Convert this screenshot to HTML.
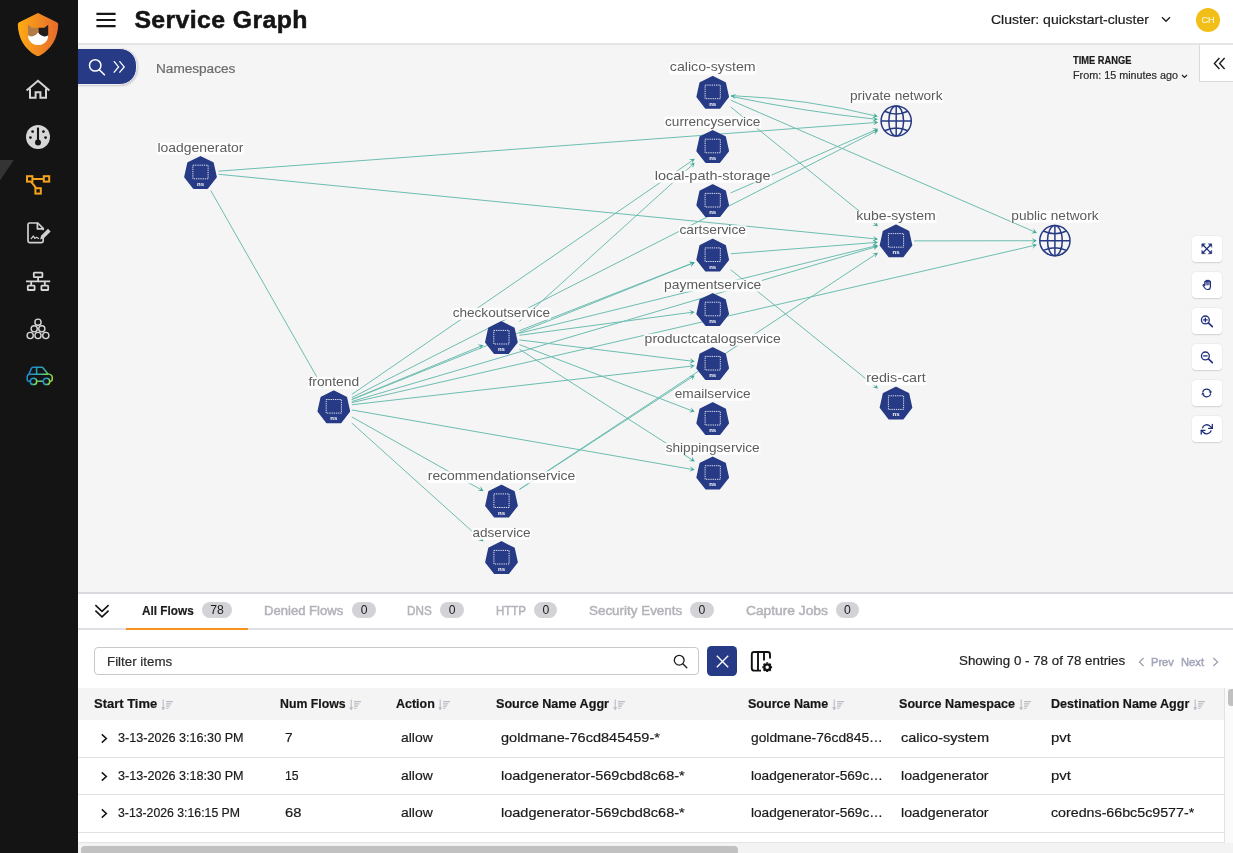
<!DOCTYPE html>
<html lang="en"><head><meta charset="utf-8"><title>Service Graph</title>
<style>
*{box-sizing:border-box;margin:0;padding:0}
html,body{width:1233px;height:853px;overflow:hidden;background:#f5f5f5;font-family:"Liberation Sans",sans-serif;color:#222}
.t{position:absolute;white-space:nowrap;-webkit-text-stroke-width:0.2px}
.abs{position:absolute}
#side{position:absolute;left:0;top:0;width:78px;height:853px;background:#141414}
#side svg{position:absolute;left:0;top:0}
#hdr{position:absolute;left:78px;top:0;width:1155px;height:45px;background:#fff;border-bottom:2px solid #e5e5e5;z-index:2}
#graph{position:absolute;left:78px;top:44px;width:1155px;height:548px;background:#f5f5f5;overflow:hidden}
svg.graph{position:absolute;left:0;top:0}
.lbl{font-family:"Liberation Sans",sans-serif;font-size:13.5px;fill:#5c5c5c}
.nst{font-family:"Liberation Sans",sans-serif;font-size:6px;font-weight:700;fill:#fff;text-anchor:middle}
.tb{position:absolute;left:1113.7px;width:30.6px;height:26.4px;background:#fff;border-radius:4px;box-shadow:0 0.5px 1.5px rgba(0,0,0,.14)}
.tb svg{position:absolute;left:9.5px;top:7.4px;overflow:visible}
#panel{position:absolute;left:78px;top:592px;width:1155px;height:261px;background:#fff;border-top:2px solid #d9dade}
.badge{position:absolute;top:7.6px;height:16px;border-radius:8px;background:#d3d3d7;color:#1c1c1c;font-size:12.2px;line-height:17px;text-align:center}
.row{position:absolute;left:0;width:1146px;height:37.5px;border-bottom:1px solid #e4e4e4;background:#fff}
</style></head><body>
<div id="side"><svg width="78" height="853" viewBox="0 0 78 853">
<defs>
<linearGradient id="lg" x1="0" y1="0" x2="1" y2="0"><stop offset="0" stop-color="#fdab14"/><stop offset="1" stop-color="#e76a2d"/></linearGradient>
<linearGradient id="cg" x1="0" y1="0.3" x2="1" y2="0.7"><stop offset="0" stop-color="#1b86d6"/><stop offset="0.55" stop-color="#2fb0b0"/><stop offset="1" stop-color="#9adf3d"/></linearGradient>
</defs>
<path d="M38 13.1 L56.8 22.2 Q58.3 22.9 58.2 24.7 C57.8 38 51.5 49 40 55.5 Q38 56.7 36 55.5 C24.5 49 18.2 38 17.8 24.7 Q17.7 22.9 19.2 22.2 Z" fill="url(#lg)"/>
<path d="M28 24.8 L31.8 27.8 L37.7 27.8 L37.7 33 Q36 37.4 32 37.2 L28 36.4 Z" fill="#b27c49"/>
<path d="M48.2 24.8 L44.4 27.8 L38.5 27.8 L38.5 33 Q40.2 37.4 44.2 37.2 L48.2 36.4 Z" fill="#231d1e"/>
<path d="M28 35.2 Q33.5 38.6 38.1 32.6 Q42.7 38.6 48.2 35.2 C48.2 41.4 43.6 45 38.1 45 C32.6 45 28 41.4 28 35.2 Z" fill="#fff"/>
<!-- home -->
<g fill="none" stroke="#d6d6d6" stroke-width="2" stroke-linejoin="miter">
<path d="M26.6 90.6 L38 80.8 L49.4 90.6"/><path d="M30 88.4 V97.7 H35.6 V92.2 H40.4 V97.7 H46 V88.4"/>
</g>
<!-- gauge -->
<circle cx="38" cy="137" r="12" fill="#d6d6d6"/>
<path d="M38 127.6 V141" stroke="#141414" stroke-width="2.1" fill="none"/>
<circle cx="38" cy="142.4" r="3" fill="#141414"/>
<g fill="#141414"><circle cx="30.4" cy="137.6" r="1.4"/><circle cx="32.6" cy="131.6" r="1.4"/><circle cx="43.4" cy="131.6" r="1.4"/><circle cx="45.6" cy="137.6" r="1.4"/></g>
<!-- active marker -->
<path d="M0 160 H13.8 L0 180.5 Z" fill="#343434"/>
<!-- service graph (active) -->
<g fill="none" stroke="#f5a21d" stroke-width="2">
<rect x="27" y="176.2" width="5.4" height="5.4"/><rect x="43.8" y="176.2" width="5.4" height="5.4"/><rect x="35.4" y="188.2" width="5.4" height="5.4"/>
<path d="M32.4 178.9 H43.8 M31 181.6 L36.2 188.2"/>
</g>
<!-- document edit -->
<g fill="none" stroke="#d0d0d0" stroke-width="1.7" stroke-linejoin="round" stroke-linecap="round">
<path d="M43.2 238.5 V241 Q43.2 242.6 41.6 242.6 H29.6 Q28 242.6 28 241 V224.6 Q28 223 29.6 223 H37.8 L43.2 228.4 V229.5"/>
<path d="M37.4 223.4 V228.8 H42.8"/>
<path d="M31.2 238.6 L33.4 236 L34.8 238.4 L36.6 237.2 L38.6 238.6" stroke-width="1.2"/>
</g>
<path d="M40.2 239.6 L41 235.8 L48 228.8 L50.6 231.4 L43.6 238.4 Z" fill="#d0d0d0"/>
<!-- network -->
<g fill="none" stroke="#d6d6d6" stroke-width="1.8">
<rect x="33.8" y="272.6" width="8.6" height="4.6" rx="0.6"/>
<rect x="27.8" y="285.6" width="6.8" height="4.4" rx="0.6"/><rect x="41.4" y="285.6" width="6.8" height="4.4" rx="0.6"/>
<path d="M26 281.3 H50.2 M38.1 277.2 V281.3 M31.2 281.3 V285.6 M44.8 281.3 V285.6"/>
</g>
<!-- pyramid -->
<g fill="none" stroke="#d6d6d6" stroke-width="1.4">
<circle cx="38" cy="322.2" r="3.1"/><circle cx="34.2" cy="328.8" r="3.1"/><circle cx="41.8" cy="328.8" r="3.1"/>
<circle cx="30.2" cy="335.5" r="3.1"/><circle cx="38" cy="335.5" r="3.1"/><circle cx="45.8" cy="335.5" r="3.1"/>
</g>
<!-- car -->
<g fill="none" stroke="url(#cg)" stroke-width="1.5" stroke-linejoin="round" stroke-linecap="round">
<path d="M30.2 381.2 H28.6 Q27.2 381.2 27.2 379.8 V376.4 Q27.2 374.6 28.8 374.4 L31.4 368.4 Q31.9 367.2 33.2 367.2 H41.4 Q42.6 367.2 43.4 368.2 L47.6 373.6 L50.4 374.6 Q52.2 375.2 52.2 377 V379.8 Q52.2 381.2 50.8 381.2 H49.8"/>
<path d="M36.8 381.2 H43.2 M29 374.3 H47.4 M36.6 367.4 V374.2"/>
<circle cx="33.5" cy="381.4" r="3.2"/><circle cx="46.5" cy="381.4" r="3.2"/>
</g>
</svg></div>
<div id="hdr"><svg class="abs" style="left:18px;top:12px" width="20" height="16" viewBox="0 0 20 16"><path d="M0.4 1.9H19.6M0.4 8H19.6M0.4 14.1H19.6" stroke="#161616" stroke-width="2.1" fill="none"/></svg><div class="t" style="left:56.4px;top:3.6px;font-size:24.8px;line-height:32px;font-weight:700;color:#141414;letter-spacing:0.402px;-webkit-text-stroke:0.55px #141414;">Service Graph</div><div class="t" style="left:913.0px;top:11.4px;font-size:13.1px;line-height:17px;font-weight:400;color:#1c1c1c;letter-spacing:0.000px;transform:scaleX(1.0691);transform-origin:0 0;-webkit-text-stroke:0.2px #1c1c1c;">Cluster: quickstart-cluster</div><svg class="abs" style="left:1082.5px;top:16px" width="10" height="7" viewBox="0 0 10 7"><path d="M1 1.2L5 5.2L9 1.2" stroke="#222" stroke-width="1.4" fill="none"/></svg><div class="abs" style="left:1117.7px;top:7.5px;width:24.4px;height:24.4px;border-radius:50%;background:#f1bf17"></div><div class="t" style="left:1123.4px;top:13.9px;font-size:9.2px;line-height:12px;font-weight:400;color:#fdf3cf;letter-spacing:-0.088px;">CH</div></div>
<div id="graph"><svg class="graph" width="1155" height="548" viewBox="78 44 1155 548">
<path d="M210.74 190.50L322.57 387.06M218.50 171.17L876.21 122.48M218.50 174.27L876.01 238.93M351.80 399.38L481.55 345.88M351.80 394.43L693.05 160.00M351.80 397.65L876.42 131.05M351.80 399.60L692.84 263.14M351.80 401.49L876.08 246.78M351.80 402.65L1034.95 245.30M351.80 404.75L692.71 365.97M351.80 409.94L692.73 469.51M351.80 416.93L481.76 490.09M351.80 423.00L482.01 540.17M519.40 321.41L693.22 164.13M519.40 330.67L692.84 262.96M519.40 335.30L692.72 312.17M519.40 333.28L876.06 245.79M519.40 339.91L692.71 361.24M519.40 344.60L692.83 411.08M519.40 349.23L693.02 460.40M519.50 489.48L693.02 376.51M519.50 489.32L876.33 253.88M730.70 269.72L876.44 387.32M730.70 253.80L876.01 242.46M730.70 106.98L876.45 225.06M730.70 100.20L1035.06 232.10M730.70 192.88L876.37 129.61M914.00 240.88L1034.90 240.73M731.20 95.60Q807.45 98.70 876.20 116.10M731.20 96.40Q801.45 111.10 876.20 119.30" fill="none" stroke="#6dbdb1" stroke-width="1"/>
<path d="M0 0L-5.2 -2.8L-2.7 0L-5.2 2.8Z" fill="#3fa796" transform="translate(323.56 388.80) rotate(60.36)"/>
<path d="M0 0L-5.2 -2.8L-2.7 0L-5.2 2.8Z" fill="#3fa796" transform="translate(878.20 122.33) rotate(-4.23)"/>
<path d="M0 0L-5.2 -2.8L-2.7 0L-5.2 2.8Z" fill="#3fa796" transform="translate(878.00 239.13) rotate(5.62)"/>
<path d="M0 0L-5.2 -2.8L-2.7 0L-5.2 2.8Z" fill="#3fa796" transform="translate(483.40 345.12) rotate(-22.41)"/>
<path d="M0 0L-5.2 -2.8L-2.7 0L-5.2 2.8Z" fill="#3fa796" transform="translate(694.70 158.87) rotate(-34.49)"/>
<path d="M0 0L-5.2 -2.8L-2.7 0L-5.2 2.8Z" fill="#3fa796" transform="translate(878.20 130.15) rotate(-26.94)"/>
<path d="M0 0L-5.2 -2.8L-2.7 0L-5.2 2.8Z" fill="#3fa796" transform="translate(694.70 262.40) rotate(-21.81)"/>
<path d="M0 0L-5.2 -2.8L-2.7 0L-5.2 2.8Z" fill="#3fa796" transform="translate(878.00 246.21) rotate(-16.44)"/>
<path d="M0 0L-5.2 -2.8L-2.7 0L-5.2 2.8Z" fill="#3fa796" transform="translate(1036.90 244.85) rotate(-12.97)"/>
<path d="M0 0L-5.2 -2.8L-2.7 0L-5.2 2.8Z" fill="#3fa796" transform="translate(694.70 365.75) rotate(-6.49)"/>
<path d="M0 0L-5.2 -2.8L-2.7 0L-5.2 2.8Z" fill="#3fa796" transform="translate(694.70 469.86) rotate(9.91)"/>
<path d="M0 0L-5.2 -2.8L-2.7 0L-5.2 2.8Z" fill="#3fa796" transform="translate(483.50 491.07) rotate(29.38)"/>
<path d="M0 0L-5.2 -2.8L-2.7 0L-5.2 2.8Z" fill="#3fa796" transform="translate(483.50 541.50) rotate(41.98)"/>
<path d="M0 0L-5.2 -2.8L-2.7 0L-5.2 2.8Z" fill="#3fa796" transform="translate(694.70 162.79) rotate(-42.14)"/>
<path d="M0 0L-5.2 -2.8L-2.7 0L-5.2 2.8Z" fill="#3fa796" transform="translate(694.70 262.23) rotate(-21.33)"/>
<path d="M0 0L-5.2 -2.8L-2.7 0L-5.2 2.8Z" fill="#3fa796" transform="translate(694.70 311.90) rotate(-7.60)"/>
<path d="M0 0L-5.2 -2.8L-2.7 0L-5.2 2.8Z" fill="#3fa796" transform="translate(878.00 245.32) rotate(-13.78)"/>
<path d="M0 0L-5.2 -2.8L-2.7 0L-5.2 2.8Z" fill="#3fa796" transform="translate(694.70 361.49) rotate(7.01)"/>
<path d="M0 0L-5.2 -2.8L-2.7 0L-5.2 2.8Z" fill="#3fa796" transform="translate(694.70 411.80) rotate(20.97)"/>
<path d="M0 0L-5.2 -2.8L-2.7 0L-5.2 2.8Z" fill="#3fa796" transform="translate(694.70 461.47) rotate(32.63)"/>
<path d="M0 0L-5.2 -2.8L-2.7 0L-5.2 2.8Z" fill="#3fa796" transform="translate(694.70 375.42) rotate(-33.07)"/>
<path d="M0 0L-5.2 -2.8L-2.7 0L-5.2 2.8Z" fill="#3fa796" transform="translate(878.00 252.78) rotate(-33.42)"/>
<path d="M0 0L-5.2 -2.8L-2.7 0L-5.2 2.8Z" fill="#3fa796" transform="translate(878.00 388.58) rotate(38.90)"/>
<path d="M0 0L-5.2 -2.8L-2.7 0L-5.2 2.8Z" fill="#3fa796" transform="translate(878.00 242.30) rotate(-4.46)"/>
<path d="M0 0L-5.2 -2.8L-2.7 0L-5.2 2.8Z" fill="#3fa796" transform="translate(878.00 226.32) rotate(39.01)"/>
<path d="M0 0L-5.2 -2.8L-2.7 0L-5.2 2.8Z" fill="#3fa796" transform="translate(1036.90 232.90) rotate(23.43)"/>
<path d="M0 0L-5.2 -2.8L-2.7 0L-5.2 2.8Z" fill="#3fa796" transform="translate(878.20 128.82) rotate(-23.48)"/>
<path d="M0 0L-5.2 -2.8L-2.7 0L-5.2 2.8Z" fill="#3fa796" transform="translate(1036.90 240.72) rotate(-0.07)"/>
<path d="M0 0L-5.2 -2.8L-2.7 0L-5.2 2.8Z" fill="#3fa796" transform="translate(877.80 116.40) rotate(12.41)"/>
<path d="M0 0L-5.2 -2.8L-2.7 0L-5.2 2.8Z" fill="#3fa796" transform="translate(877.80 119.50) rotate(6.28)"/>
<path d="M0 0L-5.2 -2.8L-2.7 0L-5.2 2.8Z" fill="#3fa796" transform="translate(730.90 95.70) rotate(-171.47)"/>
<polygon points="200.50,156.88 212.97,163.07 216.05,176.97 207.42,188.11 193.58,188.11 184.95,176.97 188.03,163.07" fill="#273a85" stroke="#273a85" stroke-width="1.6" stroke-linejoin="round"/>
<rect x="192.90" y="165.20" width="15.2" height="13.6" fill="none" stroke="#fff" stroke-width="0.9" stroke-dasharray="1.3 0.9" opacity="0.95"/>
<text x="200.50" y="185.80" class="nst">ns</text>
<rect x="156.70" y="142.50" width="87.60" height="12.1" rx="2" fill="#fff" fill-opacity="0.86"/>
<text x="157.50" y="151.55" class="lbl" textLength="86.00" lengthAdjust="spacingAndGlyphs">loadgenerator</text>
<polygon points="333.80,391.18 346.27,397.37 349.35,411.27 340.72,422.41 326.88,422.41 318.25,411.27 321.33,397.37" fill="#273a85" stroke="#273a85" stroke-width="1.6" stroke-linejoin="round"/>
<rect x="326.20" y="399.50" width="15.2" height="13.6" fill="none" stroke="#fff" stroke-width="0.9" stroke-dasharray="1.3 0.9" opacity="0.95"/>
<text x="333.80" y="420.10" class="nst">ns</text>
<rect x="307.65" y="376.80" width="52.30" height="12.1" rx="2" fill="#fff" fill-opacity="0.86"/>
<text x="308.45" y="385.85" class="lbl" textLength="50.70" lengthAdjust="spacingAndGlyphs">frontend</text>
<polygon points="501.40,322.08 513.87,328.27 516.95,342.17 508.32,353.31 494.48,353.31 485.85,342.17 488.93,328.27" fill="#273a85" stroke="#273a85" stroke-width="1.6" stroke-linejoin="round"/>
<rect x="493.80" y="330.40" width="15.2" height="13.6" fill="none" stroke="#fff" stroke-width="0.9" stroke-dasharray="1.3 0.9" opacity="0.95"/>
<text x="501.40" y="351.00" class="nst">ns</text>
<rect x="451.85" y="307.70" width="99.10" height="12.1" rx="2" fill="#fff" fill-opacity="0.86"/>
<text x="452.65" y="316.75" class="lbl" textLength="97.50" lengthAdjust="spacingAndGlyphs">checkoutservice</text>
<polygon points="501.50,485.58 513.97,491.77 517.05,505.67 508.42,516.81 494.58,516.81 485.95,505.67 489.03,491.77" fill="#273a85" stroke="#273a85" stroke-width="1.6" stroke-linejoin="round"/>
<rect x="493.90" y="493.90" width="15.2" height="13.6" fill="none" stroke="#fff" stroke-width="0.9" stroke-dasharray="1.3 0.9" opacity="0.95"/>
<text x="501.50" y="514.50" class="nst">ns</text>
<rect x="426.95" y="471.20" width="149.10" height="12.1" rx="2" fill="#fff" fill-opacity="0.86"/>
<text x="427.75" y="480.25" class="lbl" textLength="147.50" lengthAdjust="spacingAndGlyphs">recommendationservice</text>
<polygon points="501.50,542.08 513.97,548.27 517.05,562.17 508.42,573.31 494.58,573.31 485.95,562.17 489.03,548.27" fill="#273a85" stroke="#273a85" stroke-width="1.6" stroke-linejoin="round"/>
<rect x="493.90" y="550.40" width="15.2" height="13.6" fill="none" stroke="#fff" stroke-width="0.9" stroke-dasharray="1.3 0.9" opacity="0.95"/>
<text x="501.50" y="571.00" class="nst">ns</text>
<rect x="471.70" y="527.70" width="59.60" height="12.1" rx="2" fill="#fff" fill-opacity="0.86"/>
<text x="472.50" y="536.75" class="lbl" textLength="58.00" lengthAdjust="spacingAndGlyphs">adservice</text>
<polygon points="712.70,76.78 725.17,82.97 728.25,96.87 719.62,108.01 705.78,108.01 697.15,96.87 700.23,82.97" fill="#273a85" stroke="#273a85" stroke-width="1.6" stroke-linejoin="round"/>
<rect x="705.10" y="85.10" width="15.2" height="13.6" fill="none" stroke="#fff" stroke-width="0.9" stroke-dasharray="1.3 0.9" opacity="0.95"/>
<text x="712.70" y="105.70" class="nst">ns</text>
<rect x="669.00" y="62.40" width="87.40" height="12.1" rx="2" fill="#fff" fill-opacity="0.86"/>
<text x="669.80" y="71.45" class="lbl" textLength="85.80" lengthAdjust="spacingAndGlyphs">calico-system</text>
<polygon points="712.70,130.88 725.17,137.07 728.25,150.97 719.62,162.11 705.78,162.11 697.15,150.97 700.23,137.07" fill="#273a85" stroke="#273a85" stroke-width="1.6" stroke-linejoin="round"/>
<rect x="705.10" y="139.20" width="15.2" height="13.6" fill="none" stroke="#fff" stroke-width="0.9" stroke-dasharray="1.3 0.9" opacity="0.95"/>
<text x="712.70" y="159.80" class="nst">ns</text>
<rect x="664.25" y="116.50" width="96.90" height="12.1" rx="2" fill="#fff" fill-opacity="0.86"/>
<text x="665.05" y="125.55" class="lbl" textLength="95.30" lengthAdjust="spacingAndGlyphs">currencyservice</text>
<polygon points="712.70,185.08 725.17,191.27 728.25,205.17 719.62,216.31 705.78,216.31 697.15,205.17 700.23,191.27" fill="#273a85" stroke="#273a85" stroke-width="1.6" stroke-linejoin="round"/>
<rect x="705.10" y="193.40" width="15.2" height="13.6" fill="none" stroke="#fff" stroke-width="0.9" stroke-dasharray="1.3 0.9" opacity="0.95"/>
<text x="712.70" y="214.00" class="nst">ns</text>
<rect x="654.00" y="170.70" width="117.40" height="12.1" rx="2" fill="#fff" fill-opacity="0.86"/>
<text x="654.80" y="179.75" class="lbl" textLength="115.80" lengthAdjust="spacingAndGlyphs">local-path-storage</text>
<polygon points="712.70,239.58 725.17,245.77 728.25,259.67 719.62,270.81 705.78,270.81 697.15,259.67 700.23,245.77" fill="#273a85" stroke="#273a85" stroke-width="1.6" stroke-linejoin="round"/>
<rect x="705.10" y="247.90" width="15.2" height="13.6" fill="none" stroke="#fff" stroke-width="0.9" stroke-dasharray="1.3 0.9" opacity="0.95"/>
<text x="712.70" y="268.50" class="nst">ns</text>
<rect x="678.70" y="225.20" width="68.00" height="12.1" rx="2" fill="#fff" fill-opacity="0.86"/>
<text x="679.50" y="234.25" class="lbl" textLength="66.40" lengthAdjust="spacingAndGlyphs">cartservice</text>
<polygon points="712.70,293.88 725.17,300.07 728.25,313.97 719.62,325.11 705.78,325.11 697.15,313.97 700.23,300.07" fill="#273a85" stroke="#273a85" stroke-width="1.6" stroke-linejoin="round"/>
<rect x="705.10" y="302.20" width="15.2" height="13.6" fill="none" stroke="#fff" stroke-width="0.9" stroke-dasharray="1.3 0.9" opacity="0.95"/>
<text x="712.70" y="322.80" class="nst">ns</text>
<rect x="663.30" y="279.50" width="98.80" height="12.1" rx="2" fill="#fff" fill-opacity="0.86"/>
<text x="664.10" y="288.55" class="lbl" textLength="97.20" lengthAdjust="spacingAndGlyphs">paymentservice</text>
<polygon points="712.70,348.08 725.17,354.27 728.25,368.17 719.62,379.31 705.78,379.31 697.15,368.17 700.23,354.27" fill="#273a85" stroke="#273a85" stroke-width="1.6" stroke-linejoin="round"/>
<rect x="705.10" y="356.40" width="15.2" height="13.6" fill="none" stroke="#fff" stroke-width="0.9" stroke-dasharray="1.3 0.9" opacity="0.95"/>
<text x="712.70" y="377.00" class="nst">ns</text>
<rect x="643.80" y="333.70" width="137.80" height="12.1" rx="2" fill="#fff" fill-opacity="0.86"/>
<text x="644.60" y="342.75" class="lbl" textLength="136.20" lengthAdjust="spacingAndGlyphs">productcatalogservice</text>
<polygon points="712.70,403.08 725.17,409.27 728.25,423.17 719.62,434.31 705.78,434.31 697.15,423.17 700.23,409.27" fill="#273a85" stroke="#273a85" stroke-width="1.6" stroke-linejoin="round"/>
<rect x="705.10" y="411.40" width="15.2" height="13.6" fill="none" stroke="#fff" stroke-width="0.9" stroke-dasharray="1.3 0.9" opacity="0.95"/>
<text x="712.70" y="432.00" class="nst">ns</text>
<rect x="673.90" y="388.70" width="77.60" height="12.1" rx="2" fill="#fff" fill-opacity="0.86"/>
<text x="674.70" y="397.75" class="lbl" textLength="76.00" lengthAdjust="spacingAndGlyphs">emailservice</text>
<polygon points="712.70,457.38 725.17,463.57 728.25,477.47 719.62,488.61 705.78,488.61 697.15,477.47 700.23,463.57" fill="#273a85" stroke="#273a85" stroke-width="1.6" stroke-linejoin="round"/>
<rect x="705.10" y="465.70" width="15.2" height="13.6" fill="none" stroke="#fff" stroke-width="0.9" stroke-dasharray="1.3 0.9" opacity="0.95"/>
<text x="712.70" y="486.30" class="nst">ns</text>
<rect x="664.90" y="443.00" width="95.60" height="12.1" rx="2" fill="#fff" fill-opacity="0.86"/>
<text x="665.70" y="452.05" class="lbl" textLength="94.00" lengthAdjust="spacingAndGlyphs">shippingservice</text>
<g fill="none" stroke="#273a85" stroke-width="1.5"><circle cx="896.20" cy="121.00" r="15.10"/><ellipse cx="896.20" cy="121.00" rx="7.4" ry="15.10"/><path d="M896.20 105.90V136.10M881.10 121.00H911.30M884.60 111.30Q896.20 116.80 907.80 111.30M884.60 130.70Q896.20 125.20 907.80 130.70"/></g>
<rect x="849.10" y="91.00" width="94.20" height="12.1" rx="2" fill="#fff" fill-opacity="0.86"/>
<text x="849.90" y="100.05" class="lbl" textLength="92.60" lengthAdjust="spacingAndGlyphs">private network</text>
<polygon points="896.00,225.28 908.47,231.47 911.55,245.37 902.92,256.51 889.08,256.51 880.45,245.37 883.53,231.47" fill="#273a85" stroke="#273a85" stroke-width="1.6" stroke-linejoin="round"/>
<rect x="888.40" y="233.60" width="15.2" height="13.6" fill="none" stroke="#fff" stroke-width="0.9" stroke-dasharray="1.3 0.9" opacity="0.95"/>
<text x="896.00" y="254.20" class="nst">ns</text>
<rect x="855.45" y="210.90" width="81.10" height="12.1" rx="2" fill="#fff" fill-opacity="0.86"/>
<text x="856.25" y="219.95" class="lbl" textLength="79.50" lengthAdjust="spacingAndGlyphs">kube-system</text>
<polygon points="896.00,387.48 908.47,393.67 911.55,407.57 902.92,418.71 889.08,418.71 880.45,407.57 883.53,393.67" fill="#273a85" stroke="#273a85" stroke-width="1.6" stroke-linejoin="round"/>
<rect x="888.40" y="395.80" width="15.2" height="13.6" fill="none" stroke="#fff" stroke-width="0.9" stroke-dasharray="1.3 0.9" opacity="0.95"/>
<text x="896.00" y="416.40" class="nst">ns</text>
<rect x="865.40" y="373.10" width="61.20" height="12.1" rx="2" fill="#fff" fill-opacity="0.86"/>
<text x="866.20" y="382.15" class="lbl" textLength="59.60" lengthAdjust="spacingAndGlyphs">redis-cart</text>
<g fill="none" stroke="#273a85" stroke-width="1.5"><circle cx="1054.90" cy="240.70" r="15.10"/><ellipse cx="1054.90" cy="240.70" rx="7.4" ry="15.10"/><path d="M1054.90 225.60V255.80M1039.80 240.70H1070.00M1043.30 231.00Q1054.90 236.50 1066.50 231.00M1043.30 250.40Q1054.90 244.90 1066.50 250.40"/></g>
<rect x="1010.50" y="210.70" width="88.80" height="12.1" rx="2" fill="#fff" fill-opacity="0.86"/>
<text x="1011.30" y="219.75" class="lbl" textLength="87.20" lengthAdjust="spacingAndGlyphs">public network</text>
</svg><div class="abs" style="left:-2px;top:4.3px;width:60.5px;height:37.2px;background:#273a85;border-radius:0 17px 17px 0;border:1.2px solid #eeeef4;box-shadow:1px 1px 2px rgba(0,0,0,.18)"></div><svg class="abs" style="left:8px;top:12px" width="42" height="22" viewBox="86 56 42 22" fill="none" stroke="#fff" stroke-linecap="round"><circle cx="95.2" cy="65.4" r="5.7" stroke-width="1.5"/><path d="M99.4 69.8L104.4 74.8" stroke-width="1.6"/><path d="M114.2 61.6L118.6 66.9L114.2 72.2M119.8 61.6L124.2 66.9L119.8 72.2" stroke-width="1.3" stroke-linejoin="miter"/></svg><div class="t" style="left:77.7px;top:15.9px;font-size:13.4px;line-height:17px;font-weight:400;color:#6a6a6a;letter-spacing:0.000px;transform:scaleX(1.0153);transform-origin:0 0;">Namespaces</div><div class="t" style="left:995.3px;top:9.9px;font-size:10.1px;line-height:13px;font-weight:700;color:#1a1a1a;letter-spacing:0.000px;transform:scaleX(0.9242);transform-origin:0 0;">TIME RANGE</div><div class="t" style="left:995.2px;top:23.8px;font-size:11.3px;line-height:15px;font-weight:400;color:#2a2a2a;letter-spacing:0.000px;transform:scaleX(0.9553);transform-origin:0 0;">From: 15 minutes ago</div><svg class="abs" style="left:1103px;top:29.5px" width="7" height="5" viewBox="0 0 7 5"><path d="M1 1L3.5 3.5L6 1" stroke="#222" stroke-width="1.2" fill="none"/></svg><div class="abs" style="left:1121px;top:-2px;width:40px;height:40.3px;background:#fff;border:1.8px solid #dadada"></div><svg class="abs" style="left:1135px;top:13px" width="13" height="13" viewBox="0 0 13 13" fill="none" stroke="#1b1b1b" stroke-width="1.4"><path d="M6.4 1L1.4 6.5L6.4 12M11.6 1L6.6 6.5L11.6 12"/></svg><div class="tb" style="top:191.5px"><svg width="11.6" height="11.6" viewBox="0 0 13 13" fill="none" stroke="#1f2f7c" stroke-width="1.5" stroke-linecap="round" stroke-linejoin="round"><path d="M2.2 2.2L10.8 10.8M10.8 2.2L2.2 10.8" stroke-width="1.5"/><path d="M0.9 4.6V0.9H4.6ZM8.4 0.9H12.1V4.6ZM12.1 8.4V12.1H8.4ZM4.6 12.1H0.9V8.4Z" fill="#1f2f7c" stroke-width="0.5"/></svg></div><div class="tb" style="top:227.5px"><svg width="11.6" height="11.6" viewBox="0 0 13 13" fill="none" stroke="#1f2f7c" stroke-width="1.5" stroke-linecap="round" stroke-linejoin="round"><path d="M3.4 7.2V3.2Q3.4 2.3 4.2 2.3Q5 2.3 5 3.2V2.2Q5 1.3 5.8 1.3Q6.6 1.3 6.6 2.2V2Q6.6 1.2 7.4 1.2Q8.2 1.2 8.2 2.1V2.9Q8.2 2.2 9 2.2Q9.8 2.2 9.8 3.1V8.2Q9.8 11.6 6.8 11.6H6.2Q4.6 11.6 3.6 10.2L1.6 7.4Q1.1 6.6 1.8 6.1Q2.5 5.7 3.4 7.2Z" stroke-width="1.3" transform="translate(0.8 0.2)"/><path d="M5.8 2.4V6.4M7.4 2.2V6.4M9 2.6V6.4" stroke-width="1.5" opacity="0.7"/></svg></div><div class="tb" style="top:263.5px"><svg width="11.6" height="11.6" viewBox="0 0 13 13" fill="none" stroke="#1f2f7c" stroke-width="1.5" stroke-linecap="round" stroke-linejoin="round"><circle cx="4.9" cy="5.5" r="4.4"/><path d="M8.3 8.9L12.7 13.1" stroke-width="1.8"/><path d="M2.9 5.5H6.9M4.9 3.5V7.5" stroke-width="1.5"/></svg></div><div class="tb" style="top:299.5px"><svg width="11.6" height="11.6" viewBox="0 0 13 13" fill="none" stroke="#1f2f7c" stroke-width="1.5" stroke-linecap="round" stroke-linejoin="round"><circle cx="4.9" cy="5.5" r="4.4"/><path d="M8.3 8.9L12.7 13.1" stroke-width="1.8"/><path d="M2.9 5.5H6.9" stroke-width="1.5"/></svg></div><div class="tb" style="top:335.5px"><svg width="11.6" height="11.6" viewBox="0 0 13 13" fill="none" stroke="#1f2f7c" stroke-width="1.5" stroke-linecap="round" stroke-linejoin="round"><path d="M2 5.4A4.7 4.7 0 0 1 10.7 5.2M10.8 8A4.7 4.7 0 0 1 2.1 8.2" stroke-width="1.25"/><path d="M12.1 5.2L10.6 7.6L9.2 5.2Z M0.7 8.2L2.2 5.8L3.6 8.2Z" fill="#1f2f7c" stroke-width="0.3"/></svg></div><div class="tb" style="top:371.5px"><svg width="11.6" height="11.6" viewBox="0 0 13 13" fill="none" stroke="#1f2f7c" stroke-width="1.5" stroke-linecap="round" stroke-linejoin="round"><g transform="translate(-0.3 0.3) scale(0.565)" stroke-width="2.6"><path d="M23 2.5V10H15.5"/><path d="M1 21.5V14H8.5"/><path d="M3.51 9a9 9 0 0 1 14.85-3.36L23 10M1 14l4.64 4.36A9 9 0 0 0 20.49 15"/></g></svg></div></div>
<div id="panel"><svg class="abs" style="left:16px;top:9.6px" width="16" height="15" viewBox="0 0 16 15" fill="none" stroke="#141414" stroke-width="1.6"><path d="M1.4 1.2L8 7.4L14.6 1.2M1.4 6.6L8 12.8L14.6 6.6"/></svg>
<div class="abs" style="left:0;top:34px;width:1155px;height:2px;background:#dfe0e4"></div>
<div class="abs" style="left:48px;top:34px;width:122px;height:2px;background:#f6921e"></div>
<div class="t" style="left:64.0px;top:9.0px;font-size:12.5px;line-height:16px;font-weight:700;color:#1c1c1c;letter-spacing:0.000px;transform:scaleX(0.9423);transform-origin:0 0;">All Flows</div><div class="badge" style="left:124.0px;width:30.2px">78</div>
<div class="t" style="left:186.4px;top:9.0px;font-size:12.5px;line-height:16px;font-weight:400;color:#b3b3ba;letter-spacing:0.000px;transform:scaleX(1.0472);transform-origin:0 0;-webkit-text-stroke:0.5px #b3b3ba;">Denied Flows</div><div class="badge" style="left:274.3px;width:23.7px">0</div>
<div class="t" style="left:329.3px;top:9.0px;font-size:12.5px;line-height:16px;font-weight:400;color:#b3b3ba;letter-spacing:0.000px;transform:scaleX(0.9359);transform-origin:0 0;-webkit-text-stroke:0.5px #b3b3ba;">DNS</div><div class="badge" style="left:362.3px;width:23.7px">0</div>
<div class="t" style="left:417.7px;top:9.0px;font-size:12.5px;line-height:16px;font-weight:400;color:#b3b3ba;letter-spacing:0.000px;transform:scaleX(0.9192);transform-origin:0 0;-webkit-text-stroke:0.5px #b3b3ba;">HTTP</div><div class="badge" style="left:456.2px;width:23.3px">0</div>
<div class="t" style="left:510.8px;top:9.0px;font-size:12.5px;line-height:16px;font-weight:400;color:#b3b3ba;letter-spacing:0.000px;transform:scaleX(1.0732);transform-origin:0 0;-webkit-text-stroke:0.5px #b3b3ba;">Security Events</div><div class="badge" style="left:612.2px;width:23.6px">0</div>
<div class="t" style="left:667.8px;top:9.0px;font-size:12.5px;line-height:16px;font-weight:400;color:#b3b3ba;letter-spacing:0.000px;transform:scaleX(1.1016);transform-origin:0 0;-webkit-text-stroke:0.5px #b3b3ba;">Capture Jobs</div><div class="badge" style="left:757.8px;width:23.3px">0</div>
<div class="abs" style="left:16.2px;top:53.0px;width:605.3px;height:27.6px;border:1px solid #c9c9c9;border-radius:4px;background:#fff"></div>
<div class="t" style="left:28.6px;top:58.7px;font-size:13.3px;line-height:17px;font-weight:400;color:#2b2b2b;letter-spacing:0.000px;transform:scaleX(1.0027);transform-origin:0 0;">Filter items</div>
<svg class="abs" style="left:594.5px;top:59.6px" width="15" height="15" viewBox="0 0 15 15" fill="none" stroke="#1b1b1b" stroke-width="1.3" stroke-linecap="round"><circle cx="6.2" cy="6.2" r="4.9"/><path d="M9.8 9.8L13.8 13.8"/></svg>
<div class="abs" style="left:629px;top:51.7px;width:30.2px;height:30.4px;background:#273a85;border-radius:4.5px"></div>
<svg class="abs" style="left:637.5px;top:60.9px" width="13" height="13" viewBox="0 0 13 13" fill="none" stroke="#fff" stroke-width="1.35"><path d="M0.8 0.8L12.2 12.2M12.2 0.8L0.8 12.2"/></svg>
<svg class="abs" style="left:671.7px;top:56.0px" width="23" height="23" viewBox="0 0 23 23" fill="none" stroke="#111" stroke-width="1.9" stroke-linejoin="round"><path d="M11 20.6H4.2Q1.8 20.6 1.8 18.2V4.4Q1.8 2 4.2 2H17.6Q20 2 20 4.4V8.6M8 2V20.6M14 2V10.5"/><circle cx="17.2" cy="17.2" r="2.9" stroke-width="2.3"/><path d="M17.2 12.3V13.6M17.2 20.8V22.1M12.3 17.2H13.6M20.8 17.2H22.1M13.7 13.7L14.6 14.6M19.8 19.8L20.7 20.7M13.7 20.7L14.6 19.8M19.8 14.6L20.7 13.7" stroke-width="2"/></svg>
<div class="t" style="left:880.5px;top:58.1px;font-size:13.3px;line-height:17px;font-weight:400;color:#222;letter-spacing:0.000px;transform:scaleX(1.0035);transform-origin:0 0;">Showing 0 - 78 of 78 entries</div>
<svg class="abs" style="left:1059.5px;top:62.6px" width="7" height="10" viewBox="0 0 7 10" fill="none" stroke="#9a9db0" stroke-width="1.2"><path d="M5.6 1L1.4 5L5.6 9"/></svg>
<div class="t" style="left:1073.0px;top:59.8px;font-size:11.6px;line-height:15px;font-weight:400;color:#a3a6ba;letter-spacing:0.000px;transform:scaleX(0.9559);transform-origin:0 0;-webkit-text-stroke:0.5px #a3a6ba;">Prev</div>
<div class="t" style="left:1103.4px;top:59.8px;font-size:11.6px;line-height:15px;font-weight:400;color:#a3a6ba;letter-spacing:0.000px;transform:scaleX(0.9643);transform-origin:0 0;-webkit-text-stroke:0.5px #a3a6ba;">Next</div>
<svg class="abs" style="left:1134px;top:62.6px" width="7" height="10" viewBox="0 0 7 10" fill="none" stroke="#9a9db0" stroke-width="1.2"><path d="M1.4 1L5.6 5L1.4 9"/></svg>
<div class="abs" style="left:0;top:93.8px;width:1146px;height:32.2px;background:#f4f4f4"></div>
<div class="t" style="left:15.9px;top:101.4px;font-size:13px;line-height:17px;font-weight:700;color:#161616;letter-spacing:0.000px;transform:scaleX(0.9978);transform-origin:0 0;">Start Time</div><svg class="abs" style="left:83.1px;top:104.6px" width="13" height="12" viewBox="0 0 13 12" fill="none" stroke="#b9bbc4"><path d="M2.2 0.6V10.4" stroke-width="1.1"/><path d="M0.7 8.6L2.2 10.8L3.7 8.6Z" fill="#b9bbc4" stroke-width="0.6"/><path d="M5.1 2.6H12M5.1 4.9H10.3M5.1 7.1H9M5.1 9.3H7.6" stroke-width="1.1"/></svg>
<div class="t" style="left:201.5px;top:101.4px;font-size:13px;line-height:17px;font-weight:700;color:#161616;letter-spacing:0.000px;transform:scaleX(0.9461);transform-origin:0 0;">Num Flows</div><svg class="abs" style="left:271.1px;top:104.6px" width="13" height="12" viewBox="0 0 13 12" fill="none" stroke="#b9bbc4"><path d="M2.2 0.6V10.4" stroke-width="1.1"/><path d="M0.7 8.6L2.2 10.8L3.7 8.6Z" fill="#b9bbc4" stroke-width="0.6"/><path d="M5.1 2.6H12M5.1 4.9H10.3M5.1 7.1H9M5.1 9.3H7.6" stroke-width="1.1"/></svg>
<div class="t" style="left:317.6px;top:101.4px;font-size:13px;line-height:17px;font-weight:700;color:#161616;letter-spacing:0.000px;transform:scaleX(0.9594);transform-origin:0 0;">Action</div><svg class="abs" style="left:360.4px;top:104.6px" width="13" height="12" viewBox="0 0 13 12" fill="none" stroke="#b9bbc4"><path d="M2.2 0.6V10.4" stroke-width="1.1"/><path d="M0.7 8.6L2.2 10.8L3.7 8.6Z" fill="#b9bbc4" stroke-width="0.6"/><path d="M5.1 2.6H12M5.1 4.9H10.3M5.1 7.1H9M5.1 9.3H7.6" stroke-width="1.1"/></svg>
<div class="t" style="left:418.0px;top:101.4px;font-size:13px;line-height:17px;font-weight:700;color:#161616;letter-spacing:0.000px;transform:scaleX(0.9695);transform-origin:0 0;">Source Name Aggr</div><svg class="abs" style="left:535.0px;top:104.6px" width="13" height="12" viewBox="0 0 13 12" fill="none" stroke="#b9bbc4"><path d="M2.2 0.6V10.4" stroke-width="1.1"/><path d="M0.7 8.6L2.2 10.8L3.7 8.6Z" fill="#b9bbc4" stroke-width="0.6"/><path d="M5.1 2.6H12M5.1 4.9H10.3M5.1 7.1H9M5.1 9.3H7.6" stroke-width="1.1"/></svg>
<div class="t" style="left:670.0px;top:101.4px;font-size:13px;line-height:17px;font-weight:700;color:#161616;letter-spacing:0.000px;transform:scaleX(0.9640);transform-origin:0 0;">Source Name</div><svg class="abs" style="left:754.1px;top:104.6px" width="13" height="12" viewBox="0 0 13 12" fill="none" stroke="#b9bbc4"><path d="M2.2 0.6V10.4" stroke-width="1.1"/><path d="M0.7 8.6L2.2 10.8L3.7 8.6Z" fill="#b9bbc4" stroke-width="0.6"/><path d="M5.1 2.6H12M5.1 4.9H10.3M5.1 7.1H9M5.1 9.3H7.6" stroke-width="1.1"/></svg>
<div class="t" style="left:821.3px;top:101.4px;font-size:13px;line-height:17px;font-weight:700;color:#161616;letter-spacing:0.000px;transform:scaleX(0.9662);transform-origin:0 0;">Source Namespace</div><svg class="abs" style="left:941.2px;top:104.6px" width="13" height="12" viewBox="0 0 13 12" fill="none" stroke="#b9bbc4"><path d="M2.2 0.6V10.4" stroke-width="1.1"/><path d="M0.7 8.6L2.2 10.8L3.7 8.6Z" fill="#b9bbc4" stroke-width="0.6"/><path d="M5.1 2.6H12M5.1 4.9H10.3M5.1 7.1H9M5.1 9.3H7.6" stroke-width="1.1"/></svg>
<div class="t" style="left:972.9px;top:101.4px;font-size:13px;line-height:17px;font-weight:700;color:#161616;letter-spacing:0.000px;transform:scaleX(0.9654);transform-origin:0 0;">Destination Name Aggr</div><svg class="abs" style="left:1115.2px;top:104.6px" width="13" height="12" viewBox="0 0 13 12" fill="none" stroke="#b9bbc4"><path d="M2.2 0.6V10.4" stroke-width="1.1"/><path d="M0.7 8.6L2.2 10.8L3.7 8.6Z" fill="#b9bbc4" stroke-width="0.6"/><path d="M5.1 2.6H12M5.1 4.9H10.3M5.1 7.1H9M5.1 9.3H7.6" stroke-width="1.1"/></svg>
<div class="abs" style="left:0;top:163.2px;width:1146px;height:1px;background:#e2e2e2"></div>
<svg class="abs" style="left:21.8px;top:139.0px" width="8" height="11" viewBox="0 0 8 11" fill="none" stroke="#161616" stroke-width="1.6"><path d="M1.8 1.4L6.3 5.5L1.8 9.6"/></svg>
<div class="t" style="left:39.9px;top:135.4px;font-size:13.4px;line-height:17px;font-weight:400;color:#1a1a1a;letter-spacing:0.000px;transform:scaleX(0.9426);transform-origin:0 0;">3-13-2026 3:16:30 PM</div>
<div class="t" style="left:207.3px;top:135.4px;font-size:13.4px;line-height:17px;font-weight:400;color:#1a1a1a;letter-spacing:0.000px;transform:scaleX(1.0198);transform-origin:0 0;">7</div>
<div class="t" style="left:322.9px;top:135.4px;font-size:13.4px;line-height:17px;font-weight:400;color:#1a1a1a;letter-spacing:0.000px;transform:scaleX(1.0413);transform-origin:0 0;">allow</div>
<div class="t" style="left:422.8px;top:135.4px;font-size:13.4px;line-height:17px;font-weight:400;color:#1a1a1a;letter-spacing:0.000px;transform:scaleX(1.0833);transform-origin:0 0;">goldmane-76cd845459-*</div>
<div class="t" style="left:672.7px;top:135.4px;font-size:13.4px;line-height:17px;font-weight:400;color:#1a1a1a;letter-spacing:0.000px;transform:scaleX(1.0302);transform-origin:0 0;">goldmane-76cd845…</div>
<div class="t" style="left:822.5px;top:135.4px;font-size:13.4px;line-height:17px;font-weight:400;color:#1a1a1a;letter-spacing:0.000px;transform:scaleX(1.0855);transform-origin:0 0;">calico-system</div>
<div class="t" style="left:972.5px;top:135.4px;font-size:13.4px;line-height:17px;font-weight:400;color:#1a1a1a;letter-spacing:0.000px;transform:scaleX(1.1133);transform-origin:0 0;">pvt</div>
<div class="abs" style="left:0;top:200.3px;width:1146px;height:1px;background:#e2e2e2"></div>
<svg class="abs" style="left:21.8px;top:176.6px" width="8" height="11" viewBox="0 0 8 11" fill="none" stroke="#161616" stroke-width="1.6"><path d="M1.8 1.4L6.3 5.5L1.8 9.6"/></svg>
<div class="t" style="left:39.9px;top:173.0px;font-size:13.4px;line-height:17px;font-weight:400;color:#1a1a1a;letter-spacing:0.000px;transform:scaleX(0.9426);transform-origin:0 0;">3-13-2026 3:18:30 PM</div>
<div class="t" style="left:207.3px;top:173.0px;font-size:13.4px;line-height:17px;font-weight:400;color:#1a1a1a;letter-spacing:0.000px;transform:scaleX(0.9124);transform-origin:0 0;">15</div>
<div class="t" style="left:322.9px;top:173.0px;font-size:13.4px;line-height:17px;font-weight:400;color:#1a1a1a;letter-spacing:0.000px;transform:scaleX(1.0413);transform-origin:0 0;">allow</div>
<div class="t" style="left:422.8px;top:173.0px;font-size:13.4px;line-height:17px;font-weight:400;color:#1a1a1a;letter-spacing:0.000px;transform:scaleX(1.0821);transform-origin:0 0;">loadgenerator-569cbd8c68-*</div>
<div class="t" style="left:672.7px;top:173.0px;font-size:13.4px;line-height:17px;font-weight:400;color:#1a1a1a;letter-spacing:0.000px;transform:scaleX(1.0184);transform-origin:0 0;">loadgenerator-569c…</div>
<div class="t" style="left:822.5px;top:173.0px;font-size:13.4px;line-height:17px;font-weight:400;color:#1a1a1a;letter-spacing:0.000px;transform:scaleX(1.0593);transform-origin:0 0;">loadgenerator</div>
<div class="t" style="left:972.5px;top:173.0px;font-size:13.4px;line-height:17px;font-weight:400;color:#1a1a1a;letter-spacing:0.000px;transform:scaleX(1.1133);transform-origin:0 0;">pvt</div>
<div class="abs" style="left:0;top:238.2px;width:1146px;height:1px;background:#e2e2e2"></div>
<svg class="abs" style="left:21.8px;top:213.5px" width="8" height="11" viewBox="0 0 8 11" fill="none" stroke="#161616" stroke-width="1.6"><path d="M1.8 1.4L6.3 5.5L1.8 9.6"/></svg>
<div class="t" style="left:39.9px;top:209.9px;font-size:13.4px;line-height:17px;font-weight:400;color:#1a1a1a;letter-spacing:0.000px;transform:scaleX(0.9156);transform-origin:0 0;">3-13-2026 3:16:15 PM</div>
<div class="t" style="left:207.3px;top:209.9px;font-size:13.4px;line-height:17px;font-weight:400;color:#1a1a1a;letter-spacing:0.000px;transform:scaleX(1.1003);transform-origin:0 0;">68</div>
<div class="t" style="left:322.9px;top:209.9px;font-size:13.4px;line-height:17px;font-weight:400;color:#1a1a1a;letter-spacing:0.000px;transform:scaleX(1.0413);transform-origin:0 0;">allow</div>
<div class="t" style="left:422.8px;top:209.9px;font-size:13.4px;line-height:17px;font-weight:400;color:#1a1a1a;letter-spacing:0.000px;transform:scaleX(1.0821);transform-origin:0 0;">loadgenerator-569cbd8c68-*</div>
<div class="t" style="left:672.7px;top:209.9px;font-size:13.4px;line-height:17px;font-weight:400;color:#1a1a1a;letter-spacing:0.000px;transform:scaleX(1.0184);transform-origin:0 0;">loadgenerator-569c…</div>
<div class="t" style="left:822.5px;top:209.9px;font-size:13.4px;line-height:17px;font-weight:400;color:#1a1a1a;letter-spacing:0.000px;transform:scaleX(1.0593);transform-origin:0 0;">loadgenerator</div>
<div class="t" style="left:972.5px;top:209.9px;font-size:13.4px;line-height:17px;font-weight:400;color:#1a1a1a;letter-spacing:0.000px;transform:scaleX(1.0628);transform-origin:0 0;">coredns-66bc5c9577-*</div>
<div class="abs" style="left:0;top:248.2px;width:1146.5px;height:1px;background:#e4e4e4"></div>
<div class="abs" style="left:1146px;top:93.8px;width:1px;height:155px;background:#e2e2e2"></div>
<div class="abs" style="left:1147px;top:93.8px;width:8px;height:166px;background:#fafafa"></div>
<div class="abs" style="left:0;top:249.0px;width:1155px;height:11px;background:#f3f3f3"></div>
<div class="abs" style="left:1150px;top:95.0px;width:8px;height:17px;border-radius:3px;background:#c1c1c1"></div>
<div class="abs" style="left:3px;top:252.2px;width:657px;height:10px;border-radius:4px;background:#c1c1c1"></div></div>
</body></html>
